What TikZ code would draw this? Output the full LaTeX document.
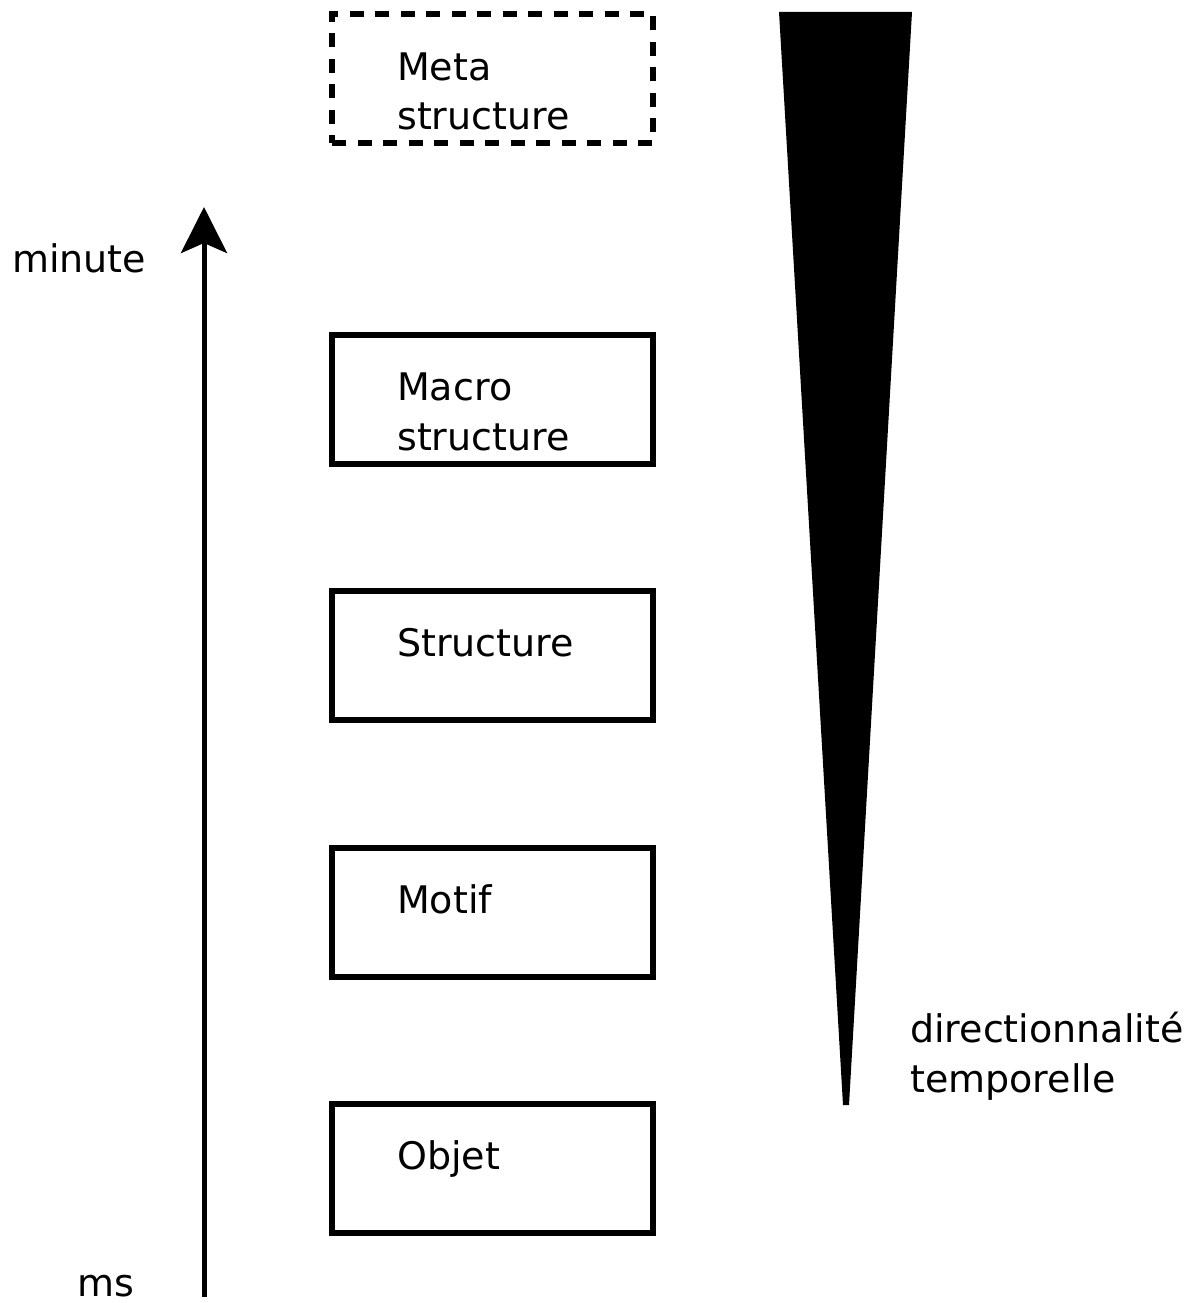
\documentclass[tikz,border=0pt]{standalone}
\usepackage{fontspec}
\setmainfont{DejaVu Sans}
\usetikzlibrary{arrows.meta}
\begin{document}
\begin{tikzpicture}[x=1pt,y=-1pt,
  box/.style={draw=black,line width=6pt,minimum width=321pt,minimum height=129pt,inner sep=0pt,outer sep=0pt,anchor=north west},
  dbox/.style={box,dash pattern=on 14pt off 11.5pt},
  lbl/.style={anchor=base west,inner sep=0pt,align=left,font=\fontsize{38pt}{50pt}\selectfont}]
\useasboundingbox (0,0) rectangle (1199,1303);
% boxes
\node[dbox] (meta) at (332,14) {};
\node[box] (macro) at (332,335) {};
\node[box] (struct) at (332,591) {};
\node[box] (motif) at (332,848) {};
\node[box] (objet) at (332,1104) {};
% box texts (base anchor = last line)
\node[lbl] (tmeta) at (397,130) {Meta\\structure};
\node[lbl] (tmacro) at (397,450) {Macro\\structure};
\node[lbl] (tstruct) at (397,656) {Structure};
\node[lbl] (tmotif) at (397,913) {Motif};
\node[lbl] (tobjet) at (397,1169) {Objet};
% time axis
\coordinate (abot) at (204,1297);
\coordinate (atop) at (204,207);
\draw[line width=5pt,-{Stealth[length=46pt,width=46pt,inset=10pt]}] (abot) -- (atop);
\node[lbl] (tminute) at (12,272) {minute};
\node[lbl] (tms) at (77,1296) {ms};
% wedge
\fill[black] (779,12) -- (912,12) -- (849,1105) -- (843,1105) -- cycle;
\node[lbl] (tdir) at (910,1092) {directionnalité\\temporelle};
\end{tikzpicture}
\end{document}
